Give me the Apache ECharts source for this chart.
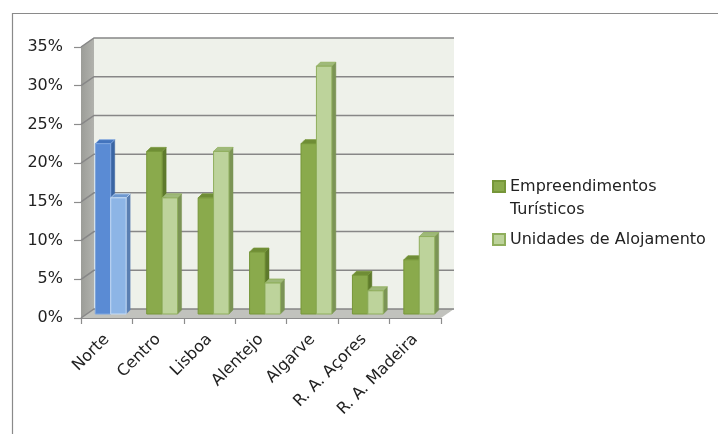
<!DOCTYPE html>
<html>
<head>
<meta charset="utf-8">
<script src="https://cdn.jsdelivr.net/npm/echarts@6/dist/echarts.min.js"></script>
<style>
  html, body { margin: 0; padding: 0; background: #fff; }
  #chart { width: 718px; height: 434px; }
</style>
</head>
<body>
<div id="chart"></div>
<script>
// Regional shares (%) of tourist establishments and accommodation units
const categories = ['Norte', 'Centro', 'Lisboa', 'Alentejo', 'Algarve', 'R. A. Açores', 'R. A. Madeira'];
const empreendimentos = [22, 21, 15, 8, 22, 5, 7];
const unidades = [15, 15, 21, 4, 32, 3, 10];
const yTicks = [0, 5, 10, 15, 20, 25, 30, 35];
const seriesNames = ['Empreendimentos Turísticos', 'Unidades de Alojamento'];
const highlightIndex = 0; // Norte drawn in blue

const FONT = '"DejaVu Sans", sans-serif';

// wall depth of the pseudo-3D frame
const DX = 13, DY = -9;
// bar placement inside the depth and bar thickness
const BOX = 4, BOY = -4, BD = 4;

const palettes = [
  { front: '#8aaa4c', border: '#769639', top: '#6f8d36', side: '#5e7a2c',
    hFront: '#5a8bd4', hBorder: '#7fa6e0', hTop: '#4374bd', hSide: '#3a65a3' },
  { front: '#bdd39b', border: '#8fae5c', top: '#9fb97a', side: '#7b9455',
    hFront: '#8db5e6', hBorder: '#c4daf4', hTop: '#6e98cf', hSide: '#5a7fb2' }
];

function wallRender(params, api) {
  const cs = params.coordSys;
  const L = cs.x, R = cs.x + cs.width, T = cs.y, B = cs.y + cs.height;
  const children = [];
  children.push({ type: 'polygon',
    shape: { points: [[L, B], [L, T], [L + DX, T + DY], [L + DX, B + DY]] },
    style: { fill: { type: 'linear', x: 0, y: 0, x2: 1, y2: 0,
      colorStops: [{ offset: 0, color: '#9c9d98' }, { offset: 1, color: '#b1b2ad' }] } } });
  children.push({ type: 'rect',
    shape: { x: L + DX, y: T + DY, width: R - L, height: B - T },
    style: { fill: '#eef1ea' } });
  children.push({ type: 'polygon',
    shape: { points: [[L, B], [R, B], [R + DX, B + DY], [L + DX, B + DY]] },
    style: { fill: '#c1c2bd' } });
  yTicks.forEach(function (v) {
    const y = api.coord([0, v])[1];
    children.push({ type: 'polyline',
      shape: { points: [[L, y], [L + DX, y + DY], [R + DX, y + DY]] },
      style: { stroke: '#878787', lineWidth: 1.5, fill: null } });
  });
  return { type: 'group', children: children };
}

function barRender(seriesIdx) {
  return function (params, api) {
    const idx = api.value(0);
    const val = api.value(1);
    const band = api.size([1, 0])[0];
    const w = band * 0.3;
    const base = api.coord([idx, 0]);
    const topPt = api.coord([idx, val]);
    const x0 = base[0] + BOX - (seriesIdx === 0 ? w : 0);
    const yb = base[1] + BOY;
    const yt = topPt[1] + BOY;
    const p = palettes[seriesIdx];
    const hi = idx === highlightIndex;
    const front = hi ? p.hFront : p.front;
    const border = hi ? p.hBorder : p.border;
    const topC = hi ? p.hTop : p.top;
    const sideC = hi ? p.hSide : p.side;
    return { type: 'group', children: [
      { type: 'polygon',
        shape: { points: [[x0 + w, yt], [x0 + w + BD, yt - BD], [x0 + w + BD, yb - BD], [x0 + w, yb]] },
        style: { fill: sideC, stroke: sideC, lineWidth: 0.5 } },
      { type: 'polygon',
        shape: { points: [[x0, yt], [x0 + w, yt], [x0 + w + BD, yt - BD], [x0 + BD, yt - BD]] },
        style: { fill: topC, stroke: border, lineWidth: 0.8 } },
      { type: 'rect',
        shape: { x: x0, y: yt, width: w, height: yb - yt },
        style: { fill: front, stroke: border, lineWidth: 1 } }
    ] };
  };
}

const chart = echarts.init(document.getElementById('chart'), null, { renderer: 'canvas' });

chart.setOption({
  animation: false,
  backgroundColor: '#ffffff',
  graphic: [{
    type: 'rect', left: 10, top: 11, z: -10,
    shape: { x: 0.5, y: 0.5, width: 800, height: 500 },
    style: { fill: null, stroke: '#8a8a8a', lineWidth: 1.2 }
  }],
  grid: { left: 81, right: 277, top: 47, bottom: 116 },
  legend: {
    orient: 'vertical',
    left: 492,
    top: 152,
    padding: 0,
    itemWidth: 12,
    itemHeight: 11,
    itemGap: 7,
    icon: 'rect',
    textStyle: { fontFamily: FONT, fontSize: 16, color: '#222', lineHeight: 23 },
    data: seriesNames,
    // first entry wraps onto two lines, with its marker beside the first line
    formatter: function (name) {
      return name === seriesNames[0] ? ' \nEmpreendimentos\nTurísticos' : name;
    }
  },
  xAxis: {
    type: 'category',
    data: categories,
    axisLine: { show: true, lineStyle: { color: '#8c8c8c', width: 1.2 } },
    axisTick: { show: true, length: 6, lineStyle: { color: '#8c8c8c', width: 1.2 } },
    axisLabel: { rotate: 45, fontFamily: FONT, fontSize: 16, color: '#222', margin: 19, interval: 0 },
    splitLine: { show: false }
  },
  yAxis: {
    type: 'value',
    min: 0, max: 35, interval: 5,
    axisLine: { show: true, lineStyle: { color: '#9a9a9a' } },
    axisTick: { show: true, length: 7, lineStyle: { color: '#8c8c8c', width: 1.2 } },
    axisLabel: { formatter: '{value}%', fontFamily: FONT, fontSize: 16, color: '#222', margin: 18 },
    splitLine: { show: false }
  },
  series: [
    { type: 'custom', name: '__walls', silent: true, z: 1,
      renderItem: wallRender, data: [[0, 0]], legendHoverLink: false },
    { type: 'custom', name: seriesNames[0], z: 2,
      itemStyle: { color: palettes[0].front, borderColor: palettes[0].border, borderWidth: 1 },
      renderItem: barRender(0),
      data: empreendimentos.map(function (v, i) { return [i, v]; }) },
    { type: 'custom', name: seriesNames[1], z: 3,
      itemStyle: { color: palettes[1].front, borderColor: palettes[1].border, borderWidth: 1 },
      renderItem: barRender(1),
      data: unidades.map(function (v, i) { return [i, v]; }) }
  ]
});
</script>
</body>
</html>
